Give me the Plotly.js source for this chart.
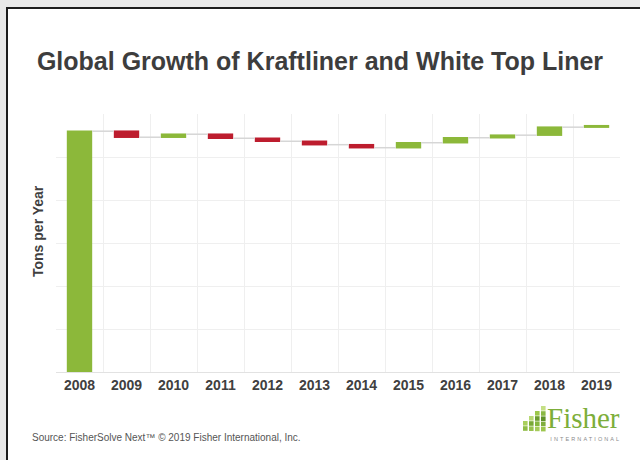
<!DOCTYPE html>
<html>
<head>
<meta charset="utf-8">
<script src="https://cdn.plot.ly/plotly-3.0.1.min.js"></script>
<style>
  html, body { margin:0; padding:0; width:640px; height:460px; overflow:hidden; background:#e8e8e8; }
  #frame { position:absolute; left:6px; top:7px; width:700px; height:520px; background:#ffffff;
           border-top:2px solid #1c1c1c; border-left:2px solid #1c1c1c; }
  #chart { position:absolute; left:0; top:0; width:640px; height:460px; }
</style>
</head>
<body>
<div id="frame"></div>
<div id="chart"></div>
<script>
// ---- data (million tons per year) ----
const years = ["2008","2009","2010","2011","2012","2013","2014","2015","2016","2017","2018","2019"];
const measures = ["absolute","relative","relative","relative","relative","relative","relative","relative","relative","relative","relative","relative"];
const values = [28.0, -0.70, 0.35, -0.47, -0.35, -0.40, -0.35, 0.58, 0.58, 0.30, 0.93, 0.17];

const green = "#8cb83a";
const red = "#bd1d2e";

const trace = {
  type: "waterfall",
  x: years,
  y: values,
  measure: measures,
  increasing: { marker: { color: green } },
  decreasing: { marker: { color: red } },
  totals: { marker: { color: green } },
  connector: { mode: "between", line: { color: "#d6d6d6", width: 1.5 } },
  textinfo: "none",
  hoverinfo: "x+y"
};

// plot-area pixel helpers for the logo shapes
const L = 56, R = 620, T = 114, B = 372;
const px = x => (x - L) / (R - L);
const py = y => (B - y) / (B - T);

const logoCols = [
  { x: 523, top: 421, c: ["#a9cf5c", "#8fbc45"] },
  { x: 529, top: 416, c: ["#b8d874", "#79a936", "#98c24f"] },
  { x: 535, top: 411, c: ["#9cc74a", "#6c9c2e", "#86b63f", "#a6cc5a"] },
  { x: 541, top: 406, c: ["#c4df85", "#8ab843", "#5f9128", "#7fae3c", "#9dc64d"] }
];
const shapes = [];
logoCols.forEach(col => {
  col.c.forEach((color, i) => {
    const y0 = col.top + i * 5.2;
    shapes.push({ type: "rect", xref: "paper", yref: "paper",
      x0: px(col.x), x1: px(col.x + 4.6), y0: py(y0 + 4.6), y1: py(y0),
      fillcolor: color, line: { width: 0 } });
  });
});

const layout = {
  width: 640, height: 460,
  margin: { l: L, r: 640 - R, t: T, b: 460 - B, pad: 0 },
  paper_bgcolor: "rgba(0,0,0,0)",
  plot_bgcolor: "rgba(0,0,0,0)",
  showlegend: false,
  waterfallgap: 0.46,
  title: {
    text: "Global Growth of Kraftliner and White Top Liner",
    x: 0.5, xanchor: "center", y: 1 - 61 / 460, yanchor: "middle",
    font: { family: "Liberation Sans, Arial, sans-serif", size: 25, weight: "bold", color: "#3d3d3d" }
  },
  xaxis: {
    type: "category",
    tickson: "boundaries",
    showgrid: true, gridcolor: "#efefef", gridwidth: 1,
    ticks: "", ticklen: 0,
    showline: true, linecolor: "#e2e2e2", linewidth: 1,
    tickfont: { family: "Liberation Sans, Arial, sans-serif", size: 14, weight: "bold", color: "#404040" },
    fixedrange: true
  },
  yaxis: {
    range: [0, 30],
    dtick: 5,
    showgrid: true, gridcolor: "#efefef", gridwidth: 1,
    zeroline: false,
    showticklabels: false,
    ticks: "",
    fixedrange: true
  },
  shapes: shapes,
  annotations: [
    { text: "Tons per Year", xref: "paper", yref: "paper", x: px(38), y: py(231),
      xanchor: "center", yanchor: "middle", textangle: -90, showarrow: false,
      font: { family: "Liberation Sans, Arial, sans-serif", size: 14, weight: "bold", color: "#404040" } },
    { text: "Source: FisherSolve Next\u2122 \u00a9 2019 Fisher International, Inc.", xref: "paper", yref: "paper",
      x: px(30), y: py(437), xanchor: "left", yanchor: "middle", showarrow: false,
      font: { family: "Liberation Sans, Arial, sans-serif", size: 10, color: "#555555" } },
    { text: "Fisher", xref: "paper", yref: "paper", x: px(545), y: py(418),
      xanchor: "left", yanchor: "middle", showarrow: false,
      font: { family: "Liberation Serif, Times New Roman, serif", size: 29, color: "#7dae3a" } },
    { text: "INTERNATIONAL", xref: "paper", yref: "paper", x: px(562), y: py(439),
      xanchor: "left", yanchor: "middle", showarrow: false,
      font: { family: "Liberation Sans, Arial, sans-serif", size: 5.5, color: "#8a8a8a" } }
  ]
};

Plotly.newPlot("chart", [trace], layout, { displayModeBar: false, staticPlot: true }).then(() => {
  document.querySelectorAll("#chart text").forEach(t => {
    if (t.textContent === "INTERNATIONAL") t.style.letterSpacing = "2.1px";
  });
});
</script>
</body>
</html>
